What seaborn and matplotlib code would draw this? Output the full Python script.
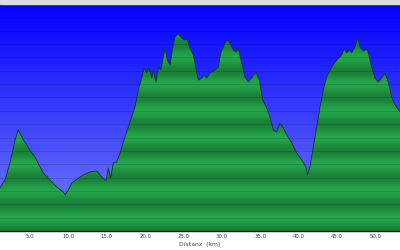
import numpy as np
import matplotlib
matplotlib.use("Agg")
import matplotlib.pyplot as plt
import seaborn as sns
import pandas as pd

distance_km = [1.09, 1.74, 2.40, 3.05, 3.48, 4.13, 5.00, 5.65, 6.30, 6.73, 7.60, 8.48, 9.34, 9.56, 9.99,
               10.43, 11.29, 12.16, 12.81, 13.68, 14.34, 14.90, 15.20, 15.51, 15.85, 16.29, 16.72, 17.37,
               18.02, 18.67, 19.10, 19.54, 19.84, 20.20, 20.49, 20.85, 21.05, 21.41, 21.71, 22.02, 22.36,
               22.58, 22.88, 23.23, 23.58, 23.88, 24.31, 24.75, 25.09, 25.48, 25.83, 26.26, 26.61, 26.91,
               27.36, 27.66, 28.01, 28.44, 29.09, 29.52, 29.83, 30.39, 30.69, 31.04, 31.47, 31.82, 32.12,
               32.57, 32.99, 33.42, 33.87, 34.43, 34.86, 35.30, 35.82, 36.25, 36.68, 37.12, 37.55, 37.98,
               38.43, 39.08, 39.73, 40.38, 40.94, 41.16, 41.46, 41.89, 42.33, 42.76, 43.19, 43.63, 44.28,
               44.93, 45.59, 45.89, 46.24, 46.58, 46.89, 47.32, 47.67, 47.97, 48.40, 48.93, 49.36, 49.92,
               50.35, 50.79, 51.22, 51.65, 52.09, 52.53, 53.18]
elevation_m = [361, 391, 455, 541, 578, 541, 503, 477, 440, 417, 391, 365, 346, 335, 354,
               380, 398, 413, 421, 425, 402, 387, 436, 398, 455, 458, 492, 552,
               608, 664, 728, 773, 810, 792, 810, 773, 803, 758, 814, 803, 852,
               885, 840, 822, 885, 927, 938, 923, 915, 919, 885, 859, 810, 765,
               773, 784, 773, 792, 803, 814, 867, 904, 915, 904, 878, 870, 885,
               829, 777, 758, 773, 795, 765, 691, 661, 627, 578, 571, 604, 586,
               560, 530, 492, 466, 440, 410, 440, 515, 589, 664, 728, 777, 814,
               840, 859, 882, 867, 878, 867, 889, 923, 889, 874, 882, 829, 773,
               758, 773, 792, 758, 702, 672, 646]
tick_values = [5, 10, 15, 20, 25, 30, 35, 40, 45, 50]
tick_labels = ["5.0", "10.0", "15.0", "20.0", "25.0", "30.0", "35.0", "40.0", "45.0", "50.0"]
x_label = "Distanz  (km)"

sns.set_theme(style="white")
plt.rcParams["font.family"] = ["DejaVu Sans"]

df = pd.DataFrame({"km": distance_km, "elev": elevation_m})

fig = plt.figure(figsize=(4, 2.5), dpi=100, facecolor="white")
fig.patches.append(plt.Rectangle((0, 246 / 250), 1, 4 / 250, transform=fig.transFigure,
                                 color="#dcdcdc", zorder=0))
ax = fig.add_axes([0, 19 / 250, 1, 227 / 250])

ymin, ymax = 200, 1050
x0, x1 = distance_km[0], distance_km[-1]
ax.set_xlim(x0, x1)
ax.set_ylim(ymin, ymax)

# blue gradient background
g = np.linspace(0, 1, 300).reshape(-1, 1, 1)
top = np.array([0, 0, 255]) / 255
bot = np.array([118, 128, 245]) / 255
bg = top + (bot - top) * g
ax.imshow(bg, extent=[x0, x1, ymin, ymax], aspect="auto", origin="upper", zorder=0,
          interpolation="bilinear")

# striped green fill (subtle bands)
yy = np.linspace(ymax, ymin, 900)
phase = ((yy - ymin) % 100) / 100.0
bright = 0.5 - 0.5 * np.cos(2 * np.pi * phase)
dark = np.array([26, 128, 56]) / 255
light = np.array([36, 166, 74]) / 255
stripes = dark + (light - dark) * bright.reshape(-1, 1, 1)
im = ax.imshow(stripes, extent=[x0, x1, ymin, ymax], aspect="auto", origin="upper", zorder=1,
               interpolation="bilinear")
poly = ax.fill_between(df["km"], df["elev"], ymin, color="none", lw=0)
im.set_clip_path(poly.get_paths()[0], transform=ax.transData)

# horizontal grid lines
for yv in range(250, ymax, 50):
    ax.axhline(yv, color=(0, 0, 0.15), alpha=0.16, lw=0.6, zorder=2)

sns.lineplot(data=df, x="km", y="elev", ax=ax, color="#0d3a1c", lw=0.6, zorder=3)

ax.set_xticks(tick_values)
ax.set_xticklabels(tick_labels, fontsize=3.9, color="#444444")
ax.set_yticks([])
ax.tick_params(axis="x", length=0, pad=2.5)
ax.set_xlabel(x_label, fontsize=4.4, color="#444444", labelpad=1.5)
ax.set_ylabel("")
for s in ["left", "right", "top"]:
    ax.spines[s].set_visible(False)
ax.spines["bottom"].set_color("#111111")
ax.spines["bottom"].set_linewidth(1.0)

fig.savefig("out.png", dpi=100, facecolor="white")
